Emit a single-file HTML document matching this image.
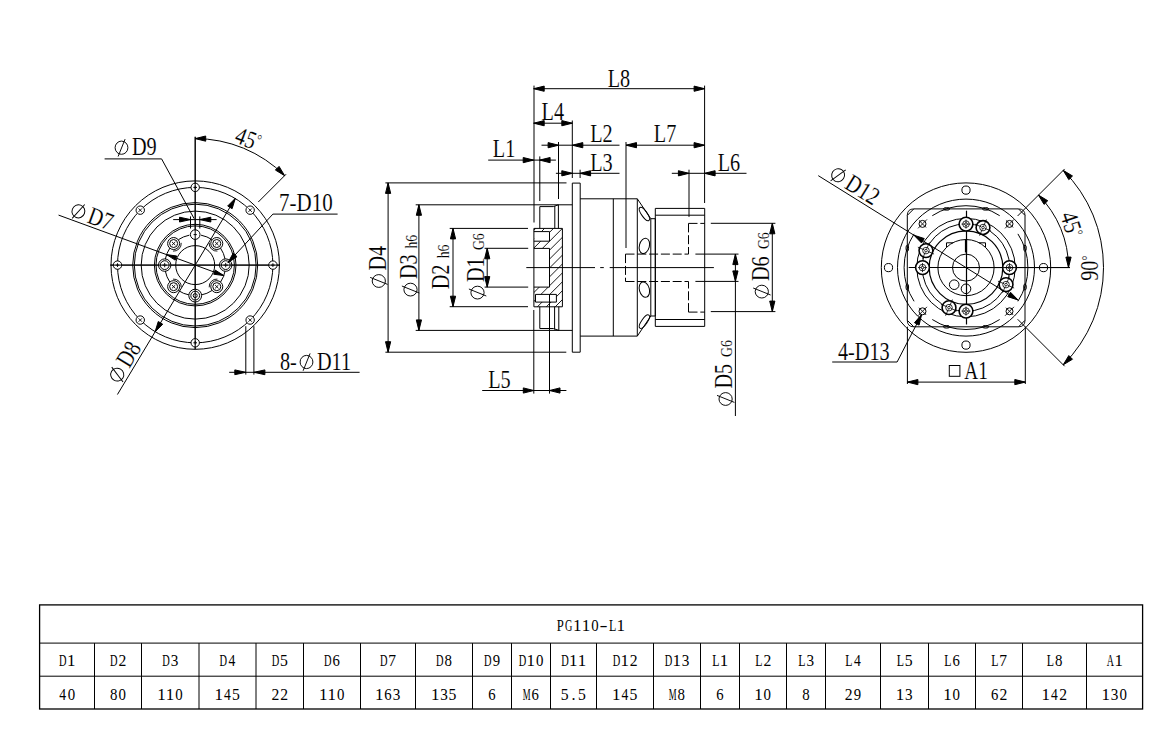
<!DOCTYPE html>
<html><head><meta charset="utf-8"><style>
text{fill:#000;stroke:#fff;stroke-width:0.12px}
.tb text{stroke:none}

html,body{margin:0;padding:0;background:#fff;width:1170px;height:747px;overflow:hidden}
svg{display:block}
</style></head><body>
<svg width="1170" height="747" viewBox="0 0 1170 747">
<rect width="1170" height="747" fill="#fff"/>
<g fill="none" stroke="#000" stroke-width="1">
<circle cx="195.2" cy="265.1" r="84.2"/>
<circle cx="195.2" cy="265.1" r="62.5"/>
<circle cx="195.2" cy="265.1" r="60.9"/>
<circle cx="195.2" cy="265.1" r="54"/>
<circle cx="195.2" cy="265.1" r="40.8"/>
<circle cx="195.2" cy="265.1" r="39.2"/>
<circle cx="195.2" cy="265.1" r="19.5"/>
<circle cx="195.2" cy="265.1" r="77.7"/>
<line x1="195.2" y1="136.8" x2="195.2" y2="349.2"/>
<line x1="110.4" y1="265.1" x2="280" y2="265.1"/>
<circle cx="272.9" cy="265.1" r="4.2" fill="#fff"/>
<line x1="271.1" y1="265.1" x2="274.7" y2="265.1" stroke-width="1"/>
<line x1="272.9" y1="263.3" x2="272.9" y2="266.9" stroke-width="1"/>
<circle cx="250.14" cy="320.04" r="4.2" fill="#fff"/>
<line x1="248.44" y1="318.34" x2="251.84" y2="321.74" stroke-width="0.9"/>
<line x1="248.44" y1="321.74" x2="251.84" y2="318.34" stroke-width="0.9"/>
<circle cx="195.2" cy="342.8" r="4.2" fill="#fff"/>
<line x1="193.4" y1="342.8" x2="197" y2="342.8" stroke-width="1"/>
<line x1="195.2" y1="341" x2="195.2" y2="344.6" stroke-width="1"/>
<circle cx="140.26" cy="320.04" r="4.2" fill="#fff"/>
<line x1="138.56" y1="318.34" x2="141.96" y2="321.74" stroke-width="0.9"/>
<line x1="138.56" y1="321.74" x2="141.96" y2="318.34" stroke-width="0.9"/>
<circle cx="117.5" cy="265.1" r="4.2" fill="#fff"/>
<line x1="115.7" y1="265.1" x2="119.3" y2="265.1" stroke-width="1"/>
<line x1="117.5" y1="263.3" x2="117.5" y2="266.9" stroke-width="1"/>
<circle cx="140.26" cy="210.16" r="4.2" fill="#fff"/>
<line x1="138.56" y1="208.46" x2="141.96" y2="211.86" stroke-width="0.9"/>
<line x1="138.56" y1="211.86" x2="141.96" y2="208.46" stroke-width="0.9"/>
<circle cx="195.2" cy="187.4" r="4.2" fill="#fff"/>
<line x1="193.4" y1="187.4" x2="197" y2="187.4" stroke-width="1"/>
<line x1="195.2" y1="185.6" x2="195.2" y2="189.2" stroke-width="1"/>
<circle cx="250.14" cy="210.16" r="4.2" fill="#fff"/>
<line x1="248.44" y1="208.46" x2="251.84" y2="211.86" stroke-width="0.9"/>
<line x1="248.44" y1="211.86" x2="251.84" y2="208.46" stroke-width="0.9"/>
<path d="M225.14 270.92 A30.5 30.5 0 0 1 220.49 282.16"/>
<path d="M212.26 290.39 A30.5 30.5 0 0 1 201.02 295.04"/>
<path d="M189.38 295.04 A30.5 30.5 0 0 1 178.14 290.39"/>
<path d="M169.91 282.16 A30.5 30.5 0 0 1 165.26 270.92"/>
<path d="M165.26 259.28 A30.5 30.5 0 0 1 169.91 248.04"/>
<path d="M178.14 239.81 A30.5 30.5 0 0 1 189.38 235.16"/>
<path d="M201.02 235.16 A30.5 30.5 0 0 1 212.26 239.81"/>
<path d="M220.49 248.04 A30.5 30.5 0 0 1 225.14 259.28"/>
<circle cx="225.7" cy="265.1" r="6.2" fill="#fff"/>
<circle cx="225.7" cy="265.1" r="4.4"/>
<line x1="223.5" y1="265.1" x2="227.9" y2="265.1" stroke-width="1"/>
<line x1="225.7" y1="262.9" x2="225.7" y2="267.3" stroke-width="0.9"/>
<circle cx="216.77" cy="286.67" r="6" fill="#fff"/>
<circle cx="216.77" cy="286.67" r="4"/>
<path d="M209.2 287.33 A7.6 7.6 0 0 1 217.43 279.1" stroke-width="0.9"/>
<line x1="215.07" y1="284.97" x2="218.47" y2="288.37" stroke-width="0.9"/>
<line x1="215.07" y1="288.37" x2="218.47" y2="284.97" stroke-width="0.9"/>
<circle cx="195.2" cy="295.6" r="6.4" fill="#fff"/>
<circle cx="195.2" cy="295.6" r="4.4"/>
<circle cx="195.2" cy="295.6" r="2"/>
<circle cx="173.63" cy="286.67" r="6" fill="#fff"/>
<circle cx="173.63" cy="286.67" r="4"/>
<path d="M172.97 279.1 A7.6 7.6 0 0 1 181.2 287.33" stroke-width="0.9"/>
<line x1="171.93" y1="284.97" x2="175.33" y2="288.37" stroke-width="0.9"/>
<line x1="171.93" y1="288.37" x2="175.33" y2="284.97" stroke-width="0.9"/>
<circle cx="164.7" cy="265.1" r="6.2" fill="#fff"/>
<circle cx="164.7" cy="265.1" r="4.4"/>
<line x1="162.5" y1="265.1" x2="166.9" y2="265.1" stroke-width="1"/>
<line x1="164.7" y1="262.9" x2="164.7" y2="267.3" stroke-width="0.9"/>
<circle cx="173.63" cy="243.53" r="6" fill="#fff"/>
<circle cx="173.63" cy="243.53" r="4"/>
<path d="M181.2 242.87 A7.6 7.6 0 0 1 172.97 251.1" stroke-width="0.9"/>
<line x1="171.93" y1="241.83" x2="175.33" y2="245.23" stroke-width="0.9"/>
<line x1="171.93" y1="245.23" x2="175.33" y2="241.83" stroke-width="0.9"/>
<circle cx="195.2" cy="234.6" r="4.8" fill="#fff"/>
<line x1="193.6" y1="234.6" x2="196.8" y2="234.6" stroke-width="1"/>
<circle cx="216.77" cy="243.53" r="6" fill="#fff"/>
<circle cx="216.77" cy="243.53" r="4"/>
<path d="M217.43 251.1 A7.6 7.6 0 0 1 209.2 242.87" stroke-width="0.9"/>
<line x1="215.07" y1="241.83" x2="218.47" y2="245.23" stroke-width="0.9"/>
<line x1="215.07" y1="245.23" x2="218.47" y2="241.83" stroke-width="0.9"/>
<line x1="195.2" y1="136.8" x2="195.2" y2="349.2"/>
<line x1="110.4" y1="265.1" x2="280" y2="265.1"/>
<line x1="58.56" y1="215.1" x2="224.31" y2="275.75"/>
<polygon points="166.56,254.62 176.7,255.99 175.19,260.12" fill="#000"/>
<polygon points="223.84,275.58 213.7,274.21 215.21,270.08" fill="#000"/>
<line x1="235.32" y1="198.33" x2="117.43" y2="394.53"/>
<polygon points="235.32,198.33 232.14,208.67 227.68,205.99" fill="#000"/>
<polygon points="155.08,331.87 158.26,321.53 162.72,324.21" fill="#000"/>
<path d="M195.2 138.6 A126.5 126.5 0 0 1 284.65 175.65"/>
<polygon points="195.2,138.6 205.7,136 205.7,141.2" fill="#000"/>
<polygon points="284.65,175.65 275.39,170.06 279.06,166.39" fill="#000"/>
<line x1="258.27" y1="202.03" x2="286.06" y2="174.24"/>
<text transform="translate(245.3,146.5) rotate(21) scale(0.81,1)" font-size="25" text-anchor="middle" font-family="Liberation Serif">45<tspan font-size="15" dy="-6.3">°</tspan></text>
<polyline points="104.6,158.9 161.6,158.9 194.1,218.6"/>
<line x1="173.2" y1="219.6" x2="216.6" y2="219.6"/>
<polygon points="190.5,219.6 179.5,222 179.5,217.2" fill="#000"/>
<polygon points="199.8,219.6 210.8,217.2 210.8,222" fill="#000"/>
<line x1="190.5" y1="216.4" x2="190.5" y2="228.5"/>
<line x1="199.8" y1="216.4" x2="199.8" y2="228.5"/>
<g transform="translate(121.5,147.7) rotate(0)"><ellipse cx="0" cy="0" rx="6.4" ry="6.6" stroke-width="0.95"/><line x1="3.6" y1="-8.6" x2="-3.4" y2="8.8" stroke-width="0.95"/></g>
<text transform="translate(132,155.2) rotate(0) scale(0.81,1)" font-size="25" text-anchor="start" font-family="Liberation Serif">D9</text>
<polyline points="337.6,214.1 272.9,214.1 228,262.6"/>
<polygon points="228,262.6 233.23,253.13 237.04,256.66" fill="#000"/>
<text transform="translate(279,210.7) rotate(0) scale(0.84,1)" font-size="25" text-anchor="start" font-family="Liberation Serif">7-D10</text>
<g transform="translate(72.3,209.1) rotate(20.1)">
<g transform="translate(6.5,0) rotate(0)"><ellipse cx="0" cy="0" rx="6.4" ry="6.6" stroke-width="0.95"/><line x1="3.6" y1="-8.6" x2="-3.4" y2="8.8" stroke-width="0.95"/></g>
<text transform="translate(17.5,7.5) rotate(0) scale(0.81,1)" font-size="25" text-anchor="start" font-family="Liberation Serif">D7</text>
</g>
<g transform="translate(113.9,380.2) rotate(-59)">
<g transform="translate(6.5,0) rotate(0)"><ellipse cx="0" cy="0" rx="6.4" ry="6.6" stroke-width="0.95"/><line x1="3.6" y1="-8.6" x2="-3.4" y2="8.8" stroke-width="0.95"/></g>
<text transform="translate(17.5,7.5) rotate(0) scale(0.81,1)" font-size="25" text-anchor="start" font-family="Liberation Serif">D8</text>
</g>
<line x1="245.8" y1="326.2" x2="245.8" y2="374.6"/>
<line x1="253.9" y1="326.2" x2="253.9" y2="374.6"/>
<line x1="229.2" y1="372.3" x2="359.6" y2="372.3"/>
<polygon points="245.8,372.3 234.8,374.7 234.8,369.9" fill="#000"/>
<polygon points="253.9,372.3 264.9,369.9 264.9,374.7" fill="#000"/>
<text transform="translate(280,369.8) rotate(0) scale(0.81,1)" font-size="25" text-anchor="start" font-family="Liberation Serif">8-</text>
<g transform="translate(306.5,362) rotate(0)"><ellipse cx="0" cy="0" rx="6.4" ry="6.6" stroke-width="0.95"/><line x1="3.6" y1="-8.6" x2="-3.4" y2="8.8" stroke-width="0.95"/></g>
<text transform="translate(317,369.8) rotate(0) scale(0.81,1)" font-size="25" text-anchor="start" font-family="Liberation Serif">D11</text>
<line x1="533.7" y1="88.7" x2="704.6" y2="88.7"/>
<polygon points="533.7,88.7 544.2,86.1 544.2,91.3" fill="#000"/>
<polygon points="704.6,88.7 694.1,91.3 694.1,86.1" fill="#000"/>
<text transform="translate(618.9,86.6) rotate(0) scale(0.81,1)" font-size="25" text-anchor="middle" font-family="Liberation Serif">L8</text>
<line x1="533.7" y1="123.2" x2="572.3" y2="123.2"/>
<polygon points="533.7,123.2 544.2,120.6 544.2,125.8" fill="#000"/>
<polygon points="572.3,123.2 561.8,125.8 561.8,120.6" fill="#000"/>
<text transform="translate(552.8,120.2) rotate(0) scale(0.81,1)" font-size="25" text-anchor="middle" font-family="Liberation Serif">L4</text>
<line x1="541.5" y1="145.2" x2="619.5" y2="145.2"/>
<polygon points="558.6,145.2 548.1,147.8 548.1,142.6" fill="#000"/>
<polygon points="572.3,145.2 582.8,142.6 582.8,147.8" fill="#000"/>
<text transform="translate(601.5,142.3) rotate(0) scale(0.81,1)" font-size="25" text-anchor="middle" font-family="Liberation Serif">L2</text>
<line x1="488.2" y1="160.1" x2="555.9" y2="160.1"/>
<polygon points="533.7,160.1 523.2,162.7 523.2,157.5" fill="#000"/>
<polygon points="539.6,160.1 550.1,157.5 550.1,162.7" fill="#000"/>
<text transform="translate(504.1,157.3) rotate(0) scale(0.81,1)" font-size="25" text-anchor="middle" font-family="Liberation Serif">L1</text>
<line x1="555.9" y1="173.3" x2="619.5" y2="173.3"/>
<polygon points="572.3,173.3 561.8,175.9 561.8,170.7" fill="#000"/>
<polygon points="580.1,173.3 590.6,170.7 590.6,175.9" fill="#000"/>
<text transform="translate(601.5,170.5) rotate(0) scale(0.81,1)" font-size="25" text-anchor="middle" font-family="Liberation Serif">L3</text>
<line x1="626" y1="145.2" x2="704.6" y2="145.2"/>
<polygon points="626,145.2 636.5,142.6 636.5,147.8" fill="#000"/>
<polygon points="704.6,145.2 694.1,147.8 694.1,142.6" fill="#000"/>
<text transform="translate(665.1,142.3) rotate(0) scale(0.81,1)" font-size="25" text-anchor="middle" font-family="Liberation Serif">L7</text>
<line x1="671.8" y1="173.3" x2="746.5" y2="173.3"/>
<polygon points="688.9,173.3 678.4,175.9 678.4,170.7" fill="#000"/>
<polygon points="704.6,173.3 715.1,170.7 715.1,175.9" fill="#000"/>
<text transform="translate(729,170.6) rotate(0) scale(0.81,1)" font-size="25" text-anchor="middle" font-family="Liberation Serif">L6</text>
<line x1="534" y1="85.6" x2="534" y2="222.5"/>
<line x1="539.8" y1="156.4" x2="539.8" y2="201"/>
<line x1="558.5" y1="142" x2="558.5" y2="199"/>
<line x1="572.3" y1="120.5" x2="572.3" y2="178"/>
<line x1="580.1" y1="169.7" x2="580.1" y2="178"/>
<line x1="626" y1="142" x2="626" y2="248"/>
<line x1="689" y1="169.7" x2="689" y2="216.9"/>
<line x1="704.6" y1="85.6" x2="704.6" y2="203"/>
<line x1="533.8" y1="310" x2="533.8" y2="393.6"/>
<line x1="549.5" y1="294.4" x2="549.5" y2="393.6"/>
<line x1="482.2" y1="390.5" x2="566.4" y2="390.5"/>
<polygon points="533.8,390.5 523.3,393.1 523.3,387.9" fill="#000"/>
<polygon points="549.5,390.5 560,387.9 560,393.1" fill="#000"/>
<text transform="translate(499.4,387.9) rotate(0) scale(0.81,1)" font-size="25" text-anchor="middle" font-family="Liberation Serif">L5</text>
<line x1="385.4" y1="182.9" x2="566.5" y2="182.9"/>
<line x1="385.4" y1="352.2" x2="566.3" y2="352.2"/>
<line x1="388.1" y1="182.9" x2="388.1" y2="352.2"/>
<polygon points="388.1,182.9 390.7,193.4 385.5,193.4" fill="#000"/>
<polygon points="388.1,352.2 385.5,341.7 390.7,341.7" fill="#000"/>
<line x1="415.7" y1="204.8" x2="572.3" y2="204.8"/>
<line x1="415.7" y1="330.4" x2="572.3" y2="330.4"/>
<line x1="418.9" y1="204.8" x2="418.9" y2="330.4"/>
<polygon points="418.9,204.8 421.5,215.3 416.3,215.3" fill="#000"/>
<polygon points="418.9,330.4 416.3,319.9 421.5,319.9" fill="#000"/>
<line x1="449.7" y1="228.4" x2="528" y2="228.4"/>
<line x1="449.7" y1="306.7" x2="528" y2="306.7"/>
<line x1="453" y1="228.4" x2="453" y2="306.7"/>
<polygon points="453,228.4 455.6,238.9 450.4,238.9" fill="#000"/>
<polygon points="453,306.7 450.4,296.2 455.6,296.2" fill="#000"/>
<line x1="484.6" y1="248.3" x2="528.2" y2="248.3"/>
<line x1="484.6" y1="287.1" x2="528.2" y2="287.1"/>
<line x1="487.2" y1="248.3" x2="487.2" y2="287.1"/>
<polygon points="487.2,248.3 489.8,258.8 484.6,258.8" fill="#000"/>
<polygon points="487.2,287.1 484.6,276.6 489.8,276.6" fill="#000"/>
<g transform="translate(385.6,266.5) rotate(-90)">
<g transform="translate(-14.5,-6.8) rotate(0)"><ellipse cx="0" cy="0" rx="6.4" ry="6.6" stroke-width="0.95"/><line x1="3.6" y1="-8.6" x2="-3.4" y2="8.8" stroke-width="0.95"/></g>
<text transform="translate(-4,0) rotate(0) scale(0.81,1)" font-size="25" text-anchor="start" font-family="Liberation Serif">D4</text>
</g>
<g transform="translate(417.3,265.1) rotate(-90)">
<g transform="translate(-24.5,-6.8) rotate(0)"><ellipse cx="0" cy="0" rx="6.4" ry="6.6" stroke-width="0.95"/><line x1="3.6" y1="-8.6" x2="-3.4" y2="8.8" stroke-width="0.95"/></g>
<text transform="translate(-14,0) rotate(0) scale(0.81,1)" font-size="25" text-anchor="start" font-family="Liberation Serif">D3</text>
<text transform="translate(16.5,0) rotate(0) scale(0.81,1)" font-size="17" text-anchor="start" font-family="Liberation Serif">h6</text>
</g>
<g transform="translate(449.4,265.8) rotate(-90)">
<text transform="translate(-23.5,0) rotate(0) scale(0.81,1)" font-size="25" text-anchor="start" font-family="Liberation Serif">D2</text>
<text transform="translate(7.5,0) rotate(0) scale(0.81,1)" font-size="17" text-anchor="start" font-family="Liberation Serif">h6</text>
</g>
<g transform="translate(484.3,265.1) rotate(-90)">
<g transform="translate(-27.5,-6.8) rotate(0)"><ellipse cx="0" cy="0" rx="6.4" ry="6.6" stroke-width="0.95"/><line x1="3.6" y1="-8.6" x2="-3.4" y2="8.8" stroke-width="0.95"/></g>
<text transform="translate(-17,0) rotate(0) scale(0.81,1)" font-size="25" text-anchor="start" font-family="Liberation Serif">D1</text>
<text transform="translate(15,0) rotate(0) scale(0.81,1)" font-size="17" text-anchor="start" font-family="Liberation Serif">G6</text>
</g>
<line x1="710.8" y1="223.3" x2="775.4" y2="223.3"/>
<line x1="710.8" y1="311.6" x2="775.4" y2="311.6"/>
<line x1="772.3" y1="223.3" x2="772.3" y2="311.6"/>
<polygon points="772.3,223.3 774.9,233.8 769.7,233.8" fill="#000"/>
<polygon points="772.3,311.6 769.7,301.1 774.9,301.1" fill="#000"/>
<line x1="695.4" y1="254.1" x2="738.5" y2="254.1"/>
<line x1="695.4" y1="281.4" x2="738.5" y2="281.4"/>
<line x1="735.4" y1="254.1" x2="735.4" y2="416"/>
<polygon points="735.4,254.1 738,264.6 732.8,264.6" fill="#000"/>
<polygon points="735.4,281.4 732.8,270.9 738,270.9" fill="#000"/>
<g transform="translate(768.6,262.6) rotate(-90)">
<g transform="translate(-29,-6.8) rotate(0)"><ellipse cx="0" cy="0" rx="6.4" ry="6.6" stroke-width="0.95"/><line x1="3.6" y1="-8.6" x2="-3.4" y2="8.8" stroke-width="0.95"/></g>
<text transform="translate(-18.5,0) rotate(0) scale(0.81,1)" font-size="25" text-anchor="start" font-family="Liberation Serif">D6</text>
<text transform="translate(13.5,0) rotate(0) scale(0.81,1)" font-size="17" text-anchor="start" font-family="Liberation Serif">G6</text>
</g>
<g transform="translate(732.4,371.0) rotate(-90)">
<g transform="translate(-28,-6.8) rotate(0)"><ellipse cx="0" cy="0" rx="6.4" ry="6.6" stroke-width="0.95"/><line x1="3.6" y1="-8.6" x2="-3.4" y2="8.8" stroke-width="0.95"/></g>
<text transform="translate(-17.5,0) rotate(0) scale(0.81,1)" font-size="25" text-anchor="start" font-family="Liberation Serif">D5</text>
<text transform="translate(14,0) rotate(0) scale(0.81,1)" font-size="17" text-anchor="start" font-family="Liberation Serif">G6</text>
</g>
<polygon points="572.3,183.1 580.2,183.1 580.2,352.2 572.3,352.2"/>
<polyline points="580.2,198.8 637.3,198.8 637.3,336.1 580.2,336.1"/>
<line x1="613.3" y1="198.8" x2="613.3" y2="336.1"/>
<polyline points="637.3,198.8 650.8,218.7 650.8,316 637.3,336.1"/>
<polyline points="650.8,218.7 655.3,218.7 655.3,316 650.8,316"/>
<polygon points="655.3,208.4 704.7,208.4 704.7,326.4 655.3,326.4"/>
<line x1="655.3" y1="215.2" x2="704.7" y2="215.2"/>
<line x1="655.3" y1="319.5" x2="704.7" y2="319.5"/>
<ellipse cx="0" cy="0" rx="7.9" ry="2.8" transform="translate(644.4,214) rotate(55)"/>
<ellipse cx="0" cy="0" rx="5" ry="7.8" transform="translate(644.4,245.9) rotate(15)"/>
<ellipse cx="0" cy="0" rx="5" ry="7.8" transform="translate(644.4,289.6) rotate(-15)"/>
<ellipse cx="0" cy="0" rx="7.9" ry="2.8" transform="translate(644.4,321.6) rotate(-55)"/>
<g stroke-dasharray="9,2.8">
<line x1="688.5" y1="223.4" x2="688.5" y2="254.1"/>
<line x1="688.5" y1="312.1" x2="688.5" y2="281.5"/>
<line x1="688.5" y1="223.4" x2="704.7" y2="223.4"/>
<line x1="688.5" y1="312.1" x2="704.7" y2="312.1"/>
<line x1="625.5" y1="254.1" x2="688.5" y2="254.1"/>
<line x1="625.5" y1="281.5" x2="688.5" y2="281.5"/>
<line x1="625.5" y1="254.1" x2="625.5" y2="281.5"/>
</g>
<line x1="526.3" y1="267.6" x2="595" y2="267.6"/>
<line x1="600.2" y1="267.6" x2="603.8" y2="267.6"/>
<line x1="609.7" y1="267.6" x2="713.9" y2="267.6"/>
<polyline points="539.8,228.4 539.8,206.6 553.3,206.6 558.4,204.8"/>
<line x1="554.8" y1="206" x2="554.8" y2="228.4"/>
<line x1="558.4" y1="204.8" x2="558.4" y2="228.4"/>
<polyline points="539.8,306.7 539.8,328.5 553.3,328.5 558.8,330.4"/>
<line x1="554.6" y1="306.7" x2="554.6" y2="329.5"/>
<line x1="558.8" y1="306.7" x2="558.8" y2="330.4"/>
<defs><clipPath id="hc"><path d="M533.9 228.4H562.4V306.8H533.9ZM533.9 248.4V287.1H549.5V248.4ZM534.2 231.6V241.2H549.5V231.6ZM535.5 294.4V302.1H556.4V294.4Z" clip-rule="evenodd"/></clipPath></defs>
<path clip-path="url(#hc)" stroke-width="0.9" d="M520 92.8L580 32.8 M520 101.7L580 41.7 M520 110.6L580 50.6 M520 119.5L580 59.5 M520 128.4L580 68.4 M520 137.3L580 77.3 M520 146.2L580 86.2 M520 155.1L580 95.1 M520 164L580 104 M520 172.9L580 112.9 M520 181.8L580 121.8 M520 190.7L580 130.7 M520 199.6L580 139.6 M520 208.5L580 148.5 M520 217.4L580 157.4 M520 226.3L580 166.3 M520 235.2L580 175.2 M520 244.1L580 184.1 M520 253L580 193 M520 261.9L580 201.9 M520 270.8L580 210.8 M520 279.7L580 219.7 M520 288.6L580 228.6 M520 297.5L580 237.5 M520 306.4L580 246.4 M520 315.3L580 255.3 M520 324.2L580 264.2 M520 333.1L580 273.1 M520 342L580 282 M520 350.9L580 290.9 M520 359.8L580 299.8 M520 368.7L580 308.7 M520 377.6L580 317.6 M520 386.5L580 326.5 M520 395.4L580 335.4 M520 404.3L580 344.3 M520 413.2L580 353.2 M520 422.1L580 362.1 M520 431L580 371 M520 439.9L580 379.9"/>
<polygon points="533.9,228.4 562.4,228.4 562.4,306.8 533.9,306.8"/>
<polyline points="533.9,248.4 549.5,248.4 549.5,287.1 533.9,287.1"/>
<polyline points="533.9,231.6 549.5,231.6 549.5,241.2 533.9,241.2"/>
<polygon points="535.5,294.4 556.4,294.4 556.4,302.1 535.5,302.1"/>
<circle cx="966" cy="267.6" r="84.7"/>
<circle cx="1043.5" cy="267.6" r="4.1"/>
<circle cx="966" cy="345.1" r="4.1"/>
<circle cx="888.5" cy="267.6" r="4.1"/>
<circle cx="966" cy="190.1" r="4.1"/>
<circle cx="966" cy="267.6" r="68.5"/>
<polygon points="913.8,208.9 1018.5,208.9 1025,215.4 1025,320.3 1018.5,326.8 913.8,326.8 907.3,320.3 907.3,215.4"/>
<path stroke-width="0.9" d="M907.3 215.4 Q907.3 208.9 913.8 208.9 M1018.5 208.9 Q1025 208.9 1025 215.4 M1025 320.3 Q1025 326.8 1018.5 326.8 M913.8 326.8 Q907.3 326.8 907.3 320.3"/>
<ellipse cx="0" cy="0" rx="1.3" ry="3.2" transform="translate(907.3,248.2) rotate(0)" stroke-width="1"/>
<ellipse cx="0" cy="0" rx="1.3" ry="3.2" transform="translate(907.3,287) rotate(0)" stroke-width="1"/>
<ellipse cx="0" cy="0" rx="1.3" ry="3.2" transform="translate(1025,248.2) rotate(0)" stroke-width="1"/>
<ellipse cx="0" cy="0" rx="1.3" ry="3.2" transform="translate(1025,287) rotate(0)" stroke-width="1"/>
<ellipse cx="0" cy="0" rx="3.2" ry="1.3" transform="translate(946.6,208.9) rotate(0)" stroke-width="1"/>
<ellipse cx="0" cy="0" rx="3.2" ry="1.3" transform="translate(985.6,208.9) rotate(0)" stroke-width="1"/>
<ellipse cx="0" cy="0" rx="3.2" ry="1.3" transform="translate(946.6,326.8) rotate(0)" stroke-width="1"/>
<ellipse cx="0" cy="0" rx="3.2" ry="1.3" transform="translate(985.6,326.8) rotate(0)" stroke-width="1"/>
<path d="M1017.91 233.89 A61.9 61.9 0 0 1 1017.91 301.31"/>
<path d="M999.71 319.51 A61.9 61.9 0 0 1 932.29 319.51"/>
<path d="M914.09 301.31 A61.9 61.9 0 0 1 914.09 233.89"/>
<path d="M932.29 215.69 A61.9 61.9 0 0 1 999.71 215.69"/>
<circle cx="966" cy="267.6" r="49.2"/>
<circle cx="966" cy="267.6" r="43.7"/>
<circle cx="966" cy="267.6" r="36.8" stroke-width="1.2"/>
<circle cx="966" cy="267.6" r="28.1"/>
<circle cx="966" cy="267.6" r="13.5"/>
<circle cx="954.2" cy="284.7" r="4.8"/>
<circle cx="966" cy="288.8" r="4.8"/>
<polyline points="946.5,247 946.5,242.8 953,242.8"/>
<polyline points="979,242.8 985.5,242.8 985.5,247"/>
<line x1="966" y1="239.4" x2="966" y2="252.5" stroke-width="2.2"/>
<line x1="908.7" y1="267.5" x2="1070" y2="267.5" stroke-width="1.2"/>
<line x1="966.5" y1="210.7" x2="966.5" y2="324.5" stroke-width="1.2"/>
<circle cx="1009.5" cy="267.6" r="6.9" stroke-width="1.6" fill="#fff"/>
<circle cx="1009.5" cy="267.6" r="3.3" stroke-width="0.8"/>
<circle cx="1009.5" cy="267.6" r="1.3" stroke-width="0.8"/>
<line x1="1010.5" y1="267.6" x2="1014" y2="267.6" stroke-width="0.8"/>
<line x1="1009.5" y1="268.6" x2="1009.5" y2="272.1" stroke-width="0.8"/>
<line x1="1008.5" y1="267.6" x2="1005" y2="267.6" stroke-width="0.8"/>
<line x1="1009.5" y1="266.6" x2="1009.5" y2="263.1" stroke-width="0.8"/>
<circle cx="966" cy="311.1" r="6.9" stroke-width="1.6" fill="#fff"/>
<circle cx="966" cy="311.1" r="3.3" stroke-width="0.8"/>
<circle cx="966" cy="311.1" r="1.3" stroke-width="0.8"/>
<line x1="966" y1="312.1" x2="966" y2="315.6" stroke-width="0.8"/>
<line x1="965" y1="311.1" x2="961.5" y2="311.1" stroke-width="0.8"/>
<line x1="966" y1="310.1" x2="966" y2="306.6" stroke-width="0.8"/>
<line x1="967" y1="311.1" x2="970.5" y2="311.1" stroke-width="0.8"/>
<circle cx="922.5" cy="267.6" r="6.9" stroke-width="1.6" fill="#fff"/>
<circle cx="922.5" cy="267.6" r="3.3" stroke-width="0.8"/>
<circle cx="922.5" cy="267.6" r="1.3" stroke-width="0.8"/>
<line x1="921.5" y1="267.6" x2="918" y2="267.6" stroke-width="0.8"/>
<line x1="922.5" y1="266.6" x2="922.5" y2="263.1" stroke-width="0.8"/>
<line x1="923.5" y1="267.6" x2="927" y2="267.6" stroke-width="0.8"/>
<line x1="922.5" y1="268.6" x2="922.5" y2="272.1" stroke-width="0.8"/>
<circle cx="966" cy="224.1" r="6.9" stroke-width="1.6" fill="#fff"/>
<circle cx="966" cy="224.1" r="3.3" stroke-width="0.8"/>
<circle cx="966" cy="224.1" r="1.3" stroke-width="0.8"/>
<line x1="966" y1="223.1" x2="966" y2="219.6" stroke-width="0.8"/>
<line x1="967" y1="224.1" x2="970.5" y2="224.1" stroke-width="0.8"/>
<line x1="966" y1="225.1" x2="966" y2="228.6" stroke-width="0.8"/>
<line x1="965" y1="224.1" x2="961.5" y2="224.1" stroke-width="0.8"/>
<circle cx="1006.04" cy="284.6" r="6.9" stroke-width="1.6" fill="#fff"/>
<circle cx="1006.04" cy="284.6" r="3.3" stroke-width="0.8"/>
<circle cx="1006.04" cy="284.6" r="1.3" stroke-width="0.8"/>
<line x1="1007.88" y1="285.38" x2="1014.14" y2="288.04" stroke-width="0.8"/>
<line x1="1005.26" y1="286.44" x2="1002.6" y2="292.7" stroke-width="0.8"/>
<line x1="1004.2" y1="283.82" x2="997.94" y2="281.16" stroke-width="0.8"/>
<line x1="1006.82" y1="282.76" x2="1009.48" y2="276.5" stroke-width="0.8"/>
<circle cx="925.96" cy="250.6" r="6.9" stroke-width="1.6" fill="#fff"/>
<circle cx="925.96" cy="250.6" r="3.3" stroke-width="0.8"/>
<circle cx="925.96" cy="250.6" r="1.3" stroke-width="0.8"/>
<line x1="924.12" y1="249.82" x2="917.86" y2="247.16" stroke-width="0.8"/>
<line x1="926.74" y1="248.76" x2="929.4" y2="242.5" stroke-width="0.8"/>
<line x1="927.8" y1="251.38" x2="934.06" y2="254.04" stroke-width="0.8"/>
<line x1="925.18" y1="252.44" x2="922.52" y2="258.7" stroke-width="0.8"/>
<circle cx="949" cy="307.64" r="6.9" stroke-width="1.6" fill="#fff"/>
<circle cx="949" cy="307.64" r="3.3" stroke-width="0.8"/>
<circle cx="949" cy="307.64" r="1.3" stroke-width="0.8"/>
<line x1="948.22" y1="309.48" x2="945.56" y2="315.74" stroke-width="0.8"/>
<line x1="947.16" y1="306.86" x2="940.9" y2="304.2" stroke-width="0.8"/>
<line x1="949.78" y1="305.8" x2="952.44" y2="299.54" stroke-width="0.8"/>
<line x1="950.84" y1="308.42" x2="957.1" y2="311.08" stroke-width="0.8"/>
<circle cx="983" cy="227.56" r="6.9" stroke-width="1.6" fill="#fff"/>
<circle cx="983" cy="227.56" r="3.3" stroke-width="0.8"/>
<circle cx="983" cy="227.56" r="1.3" stroke-width="0.8"/>
<line x1="983.78" y1="225.72" x2="986.44" y2="219.46" stroke-width="0.8"/>
<line x1="984.84" y1="228.34" x2="991.1" y2="231" stroke-width="0.8"/>
<line x1="982.22" y1="229.4" x2="979.56" y2="235.66" stroke-width="0.8"/>
<line x1="981.16" y1="226.78" x2="974.9" y2="224.12" stroke-width="0.8"/>
<circle cx="922.5" cy="223.9" r="3.5" fill="#fff"/>
<line x1="922.5" y1="223.9" x2="926.04" y2="227.44" stroke-width="0.9"/>
<line x1="922.5" y1="223.9" x2="918.05" y2="228.35" stroke-width="0.9"/>
<line x1="922.5" y1="223.9" x2="918.96" y2="220.36" stroke-width="0.9"/>
<line x1="922.5" y1="223.9" x2="926.95" y2="219.45" stroke-width="0.9"/>
<circle cx="1009.5" cy="223.9" r="3.5" fill="#fff"/>
<line x1="1009.5" y1="223.9" x2="1013.04" y2="227.44" stroke-width="0.9"/>
<line x1="1009.5" y1="223.9" x2="1005.05" y2="228.35" stroke-width="0.9"/>
<line x1="1009.5" y1="223.9" x2="1005.96" y2="220.36" stroke-width="0.9"/>
<line x1="1009.5" y1="223.9" x2="1013.95" y2="219.45" stroke-width="0.9"/>
<circle cx="922.5" cy="311.3" r="3.5" fill="#fff"/>
<line x1="922.5" y1="311.3" x2="926.04" y2="314.84" stroke-width="0.9"/>
<line x1="922.5" y1="311.3" x2="918.05" y2="315.75" stroke-width="0.9"/>
<line x1="922.5" y1="311.3" x2="918.96" y2="307.76" stroke-width="0.9"/>
<line x1="922.5" y1="311.3" x2="926.95" y2="306.85" stroke-width="0.9"/>
<circle cx="1009.5" cy="311.3" r="3.5" fill="#fff"/>
<line x1="1009.5" y1="311.3" x2="1013.04" y2="314.84" stroke-width="0.9"/>
<line x1="1009.5" y1="311.3" x2="1005.05" y2="315.75" stroke-width="0.9"/>
<line x1="1009.5" y1="311.3" x2="1005.96" y2="307.76" stroke-width="0.9"/>
<line x1="1009.5" y1="311.3" x2="1013.95" y2="306.85" stroke-width="0.9"/>
<line x1="818.28" y1="175.65" x2="1018.04" y2="299.99"/>
<polygon points="913.96,235.21 924.25,238.55 921.5,242.96" fill="#000"/>
<polygon points="1018.04,299.99 1007.75,296.65 1010.5,292.24" fill="#000"/>
<g transform="translate(832.6,171.8) rotate(31.9)">
<g transform="translate(6.5,0) rotate(0)"><ellipse cx="0" cy="0" rx="6.4" ry="6.6" stroke-width="0.95"/><line x1="3.6" y1="-8.6" x2="-3.4" y2="8.8" stroke-width="0.95"/></g>
<text transform="translate(17.5,7.5) rotate(0) scale(0.81,1)" font-size="25" text-anchor="start" font-family="Liberation Serif">D12</text>
</g>
<line x1="1017.62" y1="215.98" x2="1064.64" y2="168.96"/>
<line x1="1017.62" y1="319.22" x2="1064.64" y2="366.24"/>
<line x1="966" y1="267.6" x2="1070" y2="267.6"/>
<path d="M1038.48 195.12 A102.5 102.5 0 0 1 1068.5 267.6"/>
<polygon points="1068.5,267.6 1065.9,257.1 1071.1,257.1" fill="#000"/>
<polygon points="1038.48,195.12 1047.74,200.71 1044.06,204.38" fill="#000"/>
<path d="M1063.23 170.37 A137.5 137.5 0 0 1 1063.23 364.83"/>
<polygon points="1063.23,170.37 1072.49,175.96 1068.81,179.64" fill="#000"/>
<polygon points="1063.23,364.83 1068.81,355.56 1072.49,359.24" fill="#000"/>
<text transform="translate(1063.8,227) rotate(72) scale(0.81,1)" font-size="25" text-anchor="middle" font-family="Liberation Serif">45<tspan font-size="15" dy="-6.3">°</tspan></text>
<text transform="translate(1098.4,268.2) rotate(-90) scale(0.81,1)" font-size="25" text-anchor="middle" font-family="Liberation Serif">90<tspan font-size="15" dy="-6.3">°</tspan></text>
<polyline points="832.2,362 897.1,362 921.6,314.6"/>
<polygon points="921.6,314.6 919.09,325.12 914.47,322.73" fill="#000"/>
<text transform="translate(838,359.5) rotate(0) scale(0.81,1)" font-size="25" text-anchor="start" font-family="Liberation Serif">4-D13</text>
<line x1="907.4" y1="326.7" x2="907.4" y2="384"/>
<line x1="1025.3" y1="326.7" x2="1025.3" y2="384"/>
<line x1="907.4" y1="382.1" x2="1025.3" y2="382.1"/>
<polygon points="907.4,382.1 917.9,379.5 917.9,384.7" fill="#000"/>
<polygon points="1025.3,382.1 1014.8,384.7 1014.8,379.5" fill="#000"/>
<rect x="949.3" y="365.5" width="10.6" height="10.8" stroke-width="1"/>
<text transform="translate(964.3,378.5) rotate(0) scale(0.77,1)" font-size="25" text-anchor="start" font-family="Liberation Serif">A1</text>
</g>
<g fill="none" stroke="#000" stroke-width="1">
<rect x="39.6" y="604.9" width="1103" height="104.1" fill="none" stroke-width="1.3"/>
<line x1="39.6" y1="643.1" x2="1142.6" y2="643.1"/>
<line x1="39.6" y1="676.2" x2="1142.6" y2="676.2"/>
<line x1="94.5" y1="643.1" x2="94.5" y2="709"/>
<line x1="141.5" y1="643.1" x2="141.5" y2="709"/>
<line x1="199" y1="643.1" x2="199" y2="709"/>
<line x1="256" y1="643.1" x2="256" y2="709"/>
<line x1="303.5" y1="643.1" x2="303.5" y2="709"/>
<line x1="360.5" y1="643.1" x2="360.5" y2="709"/>
<line x1="415.5" y1="643.1" x2="415.5" y2="709"/>
<line x1="472.5" y1="643.1" x2="472.5" y2="709"/>
<line x1="511.5" y1="643.1" x2="511.5" y2="709"/>
<line x1="550.5" y1="643.1" x2="550.5" y2="709"/>
<line x1="596.5" y1="643.1" x2="596.5" y2="709"/>
<line x1="653.5" y1="643.1" x2="653.5" y2="709"/>
<line x1="700.5" y1="643.1" x2="700.5" y2="709"/>
<line x1="739.5" y1="643.1" x2="739.5" y2="709"/>
<line x1="786.5" y1="643.1" x2="786.5" y2="709"/>
<line x1="825.5" y1="643.1" x2="825.5" y2="709"/>
<line x1="880.5" y1="643.1" x2="880.5" y2="709"/>
<line x1="928.5" y1="643.1" x2="928.5" y2="709"/>
<line x1="975.5" y1="643.1" x2="975.5" y2="709"/>
<line x1="1022.5" y1="643.1" x2="1022.5" y2="709"/>
<line x1="1086.5" y1="643.1" x2="1086.5" y2="709"/>
<g font-family="Liberation Serif" font-size="16" fill="#000" class="tb"><text transform="translate(62.75,665.9) scale(0.65,1)" x="-5.69">D</text>
<text transform="translate(71.35,665.9) scale(1.06,1)" x="-4.22">1</text>
<text transform="translate(62.75,699.8) scale(0.85,1.08)" x="-4.03">4</text>
<text transform="translate(71.35,699.8) scale(0.93,1.08)" x="-4">0</text>
<text transform="translate(113.7,665.9) scale(0.65,1)" x="-5.69">D</text>
<text transform="translate(122.3,665.9) scale(0.98,1)" x="-3.91">2</text>
<text transform="translate(113.7,699.8) scale(0.93,1.08)" x="-4">8</text>
<text transform="translate(122.3,699.8) scale(0.93,1.08)" x="-4">0</text>
<text transform="translate(165.95,665.9) scale(0.65,1)" x="-5.69">D</text>
<text transform="translate(174.55,665.9) scale(0.95,1)" x="-4.07">3</text>
<text transform="translate(161.65,699.8) scale(1.06,1.08)" x="-4.22">1</text>
<text transform="translate(170.25,699.8) scale(1.06,1.08)" x="-4.22">1</text>
<text transform="translate(178.85,699.8) scale(0.93,1.08)" x="-4">0</text>
<text transform="translate(223.2,665.9) scale(0.65,1)" x="-5.69">D</text>
<text transform="translate(231.8,665.9) scale(0.85,1)" x="-4.03">4</text>
<text transform="translate(218.9,699.8) scale(1.06,1.08)" x="-4.22">1</text>
<text transform="translate(227.5,699.8) scale(0.85,1.08)" x="-4.03">4</text>
<text transform="translate(236.1,699.8) scale(0.98,1.08)" x="-4.15">5</text>
<text transform="translate(275.45,665.9) scale(0.65,1)" x="-5.69">D</text>
<text transform="translate(284.05,665.9) scale(0.98,1)" x="-4.15">5</text>
<text transform="translate(275.45,699.8) scale(0.98,1.08)" x="-3.91">2</text>
<text transform="translate(284.05,699.8) scale(0.98,1.08)" x="-3.91">2</text>
<text transform="translate(327.7,665.9) scale(0.65,1)" x="-5.69">D</text>
<text transform="translate(336.3,665.9) scale(0.92,1)" x="-4.1">6</text>
<text transform="translate(323.4,699.8) scale(1.06,1.08)" x="-4.22">1</text>
<text transform="translate(332,699.8) scale(1.06,1.08)" x="-4.22">1</text>
<text transform="translate(340.6,699.8) scale(0.93,1.08)" x="-4">0</text>
<text transform="translate(383.7,665.9) scale(0.65,1)" x="-5.69">D</text>
<text transform="translate(392.3,665.9) scale(0.97,1)" x="-4.3">7</text>
<text transform="translate(379.4,699.8) scale(1.06,1.08)" x="-4.22">1</text>
<text transform="translate(388,699.8) scale(0.92,1.08)" x="-4.1">6</text>
<text transform="translate(396.6,699.8) scale(0.95,1.08)" x="-4.07">3</text>
<text transform="translate(439.7,665.9) scale(0.65,1)" x="-5.69">D</text>
<text transform="translate(448.3,665.9) scale(0.93,1)" x="-4">8</text>
<text transform="translate(435.4,699.8) scale(1.06,1.08)" x="-4.22">1</text>
<text transform="translate(444,699.8) scale(0.95,1.08)" x="-4.07">3</text>
<text transform="translate(452.6,699.8) scale(0.98,1.08)" x="-4.15">5</text>
<text transform="translate(487.7,665.9) scale(0.65,1)" x="-5.69">D</text>
<text transform="translate(496.3,665.9) scale(0.92,1)" x="-3.93">9</text>
<text transform="translate(492,699.8) scale(0.92,1.08)" x="-4.1">6</text>
<text transform="translate(522.4,665.9) scale(0.65,1)" x="-5.69">D</text>
<text transform="translate(531,665.9) scale(1.06,1)" x="-4.22">1</text>
<text transform="translate(539.6,665.9) scale(0.93,1)" x="-4">0</text>
<text transform="translate(526.7,699.8) scale(0.55,1.08)" x="-7.11">M</text>
<text transform="translate(535.3,699.8) scale(0.92,1.08)" x="-4.1">6</text>
<text transform="translate(564.9,665.9) scale(0.65,1)" x="-5.69">D</text>
<text transform="translate(573.5,665.9) scale(1.06,1)" x="-4.22">1</text>
<text transform="translate(582.1,665.9) scale(1.06,1)" x="-4.22">1</text>
<text transform="translate(564.9,699.8) scale(0.98,1.08)" x="-4.15">5</text>
<text transform="translate(573.5,699.8) scale(1.01,1.08)" x="-2">.</text>
<text transform="translate(582.1,699.8) scale(0.98,1.08)" x="-4.15">5</text>
<text transform="translate(616.4,665.9) scale(0.65,1)" x="-5.69">D</text>
<text transform="translate(625,665.9) scale(1.06,1)" x="-4.22">1</text>
<text transform="translate(633.6,665.9) scale(0.98,1)" x="-3.91">2</text>
<text transform="translate(616.4,699.8) scale(1.06,1.08)" x="-4.22">1</text>
<text transform="translate(625,699.8) scale(0.85,1.08)" x="-4.03">4</text>
<text transform="translate(633.6,699.8) scale(0.98,1.08)" x="-4.15">5</text>
<text transform="translate(668.4,665.9) scale(0.65,1)" x="-5.69">D</text>
<text transform="translate(677,665.9) scale(1.06,1)" x="-4.22">1</text>
<text transform="translate(685.6,665.9) scale(0.95,1)" x="-4.07">3</text>
<text transform="translate(672.7,699.8) scale(0.55,1.08)" x="-7.11">M</text>
<text transform="translate(681.3,699.8) scale(0.93,1.08)" x="-4">8</text>
<text transform="translate(715.7,665.9) scale(0.74,1)" x="-4.64">L</text>
<text transform="translate(724.3,665.9) scale(1.06,1)" x="-4.22">1</text>
<text transform="translate(720,699.8) scale(0.92,1.08)" x="-4.1">6</text>
<text transform="translate(758.7,665.9) scale(0.74,1)" x="-4.64">L</text>
<text transform="translate(767.3,665.9) scale(0.98,1)" x="-3.91">2</text>
<text transform="translate(758.7,699.8) scale(1.06,1.08)" x="-4.22">1</text>
<text transform="translate(767.3,699.8) scale(0.93,1.08)" x="-4">0</text>
<text transform="translate(801.7,665.9) scale(0.74,1)" x="-4.64">L</text>
<text transform="translate(810.3,665.9) scale(0.95,1)" x="-4.07">3</text>
<text transform="translate(806,699.8) scale(0.93,1.08)" x="-4">8</text>
<text transform="translate(848.7,665.9) scale(0.74,1)" x="-4.64">L</text>
<text transform="translate(857.3,665.9) scale(0.85,1)" x="-4.03">4</text>
<text transform="translate(848.7,699.8) scale(0.98,1.08)" x="-3.91">2</text>
<text transform="translate(857.3,699.8) scale(0.92,1.08)" x="-3.93">9</text>
<text transform="translate(900.2,665.9) scale(0.74,1)" x="-4.64">L</text>
<text transform="translate(908.8,665.9) scale(0.98,1)" x="-4.15">5</text>
<text transform="translate(900.2,699.8) scale(1.06,1.08)" x="-4.22">1</text>
<text transform="translate(908.8,699.8) scale(0.95,1.08)" x="-4.07">3</text>
<text transform="translate(947.7,665.9) scale(0.74,1)" x="-4.64">L</text>
<text transform="translate(956.3,665.9) scale(0.92,1)" x="-4.1">6</text>
<text transform="translate(947.7,699.8) scale(1.06,1.08)" x="-4.22">1</text>
<text transform="translate(956.3,699.8) scale(0.93,1.08)" x="-4">0</text>
<text transform="translate(994.7,665.9) scale(0.74,1)" x="-4.64">L</text>
<text transform="translate(1003.3,665.9) scale(0.97,1)" x="-4.3">7</text>
<text transform="translate(994.7,699.8) scale(0.92,1.08)" x="-4.1">6</text>
<text transform="translate(1003.3,699.8) scale(0.98,1.08)" x="-3.91">2</text>
<text transform="translate(1050.2,665.9) scale(0.74,1)" x="-4.64">L</text>
<text transform="translate(1058.8,665.9) scale(0.93,1)" x="-4">8</text>
<text transform="translate(1045.9,699.8) scale(1.06,1.08)" x="-4.22">1</text>
<text transform="translate(1054.5,699.8) scale(0.85,1.08)" x="-4.03">4</text>
<text transform="translate(1063.1,699.8) scale(0.98,1.08)" x="-3.91">2</text>
<text transform="translate(1110.25,665.9) scale(0.62,1)" x="-5.8">A</text>
<text transform="translate(1118.85,665.9) scale(1.06,1)" x="-4.22">1</text>
<text transform="translate(1105.95,699.8) scale(1.06,1.08)" x="-4.22">1</text>
<text transform="translate(1114.55,699.8) scale(0.95,1.08)" x="-4.07">3</text>
<text transform="translate(1123.15,699.8) scale(0.93,1.08)" x="-4">0</text>
<text transform="translate(560.15,630.6) scale(0.72,1)" x="-4.8" font-size="17.6">P</text>
<text transform="translate(568.85,630.6) scale(0.58,1)" x="-6.44" font-size="17.6">G</text>
<text transform="translate(577.55,630.6) scale(0.97,1)" x="-4.65" font-size="17.6">1</text>
<text transform="translate(586.25,630.6) scale(0.97,1)" x="-4.65" font-size="17.6">1</text>
<text transform="translate(594.95,630.6) scale(0.84,1)" x="-4.4" font-size="17.6">0</text>
<text transform="translate(603.65,630.6) scale(1.38,1)" x="-2.94" font-size="17.6">-</text>
<text transform="translate(612.35,630.6) scale(0.68,1)" x="-5.1" font-size="17.6">L</text>
<text transform="translate(621.05,630.6) scale(0.97,1)" x="-4.65" font-size="17.6">1</text></g>
</g>
</svg>
</body></html>
